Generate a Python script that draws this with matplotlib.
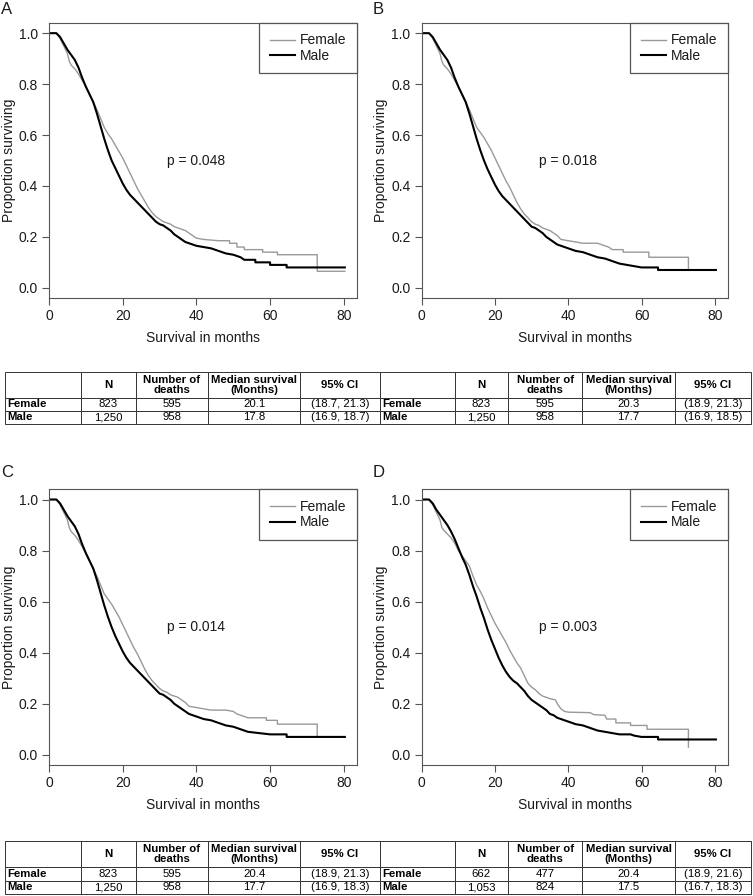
import matplotlib
matplotlib.use("Agg")
import matplotlib.pyplot as plt
import numpy as np

plt.rcParams['font.family'] = ['Liberation Sans', 'DejaVu Sans']

W, H = 753, 896
month_ticks = [0, 20, 40, 60, 80]
prop_ticks = [0.0, 0.2, 0.4, 0.6, 0.8, 1.0]
tick_labels_y = ['0.0', '0.2', '0.4', '0.6', '0.8', '1.0']

# Kaplan-Meier curves: (month, proportion surviving)
a_female = [(0, 1.0), (2, 1.0), (3, 0.98), (4, 0.95), (5, 0.92), (5.5, 0.89), (6, 0.875), (7, 0.86),
            (8, 0.84), (9, 0.815), (10, 0.79), (11, 0.76), (12, 0.73), (13, 0.70), (14, 0.665),
            (15, 0.63), (16, 0.605), (17, 0.585), (18, 0.56), (19, 0.535), (20, 0.51), (21, 0.48),
            (22, 0.45), (23, 0.42), (24, 0.39), (25, 0.365), (26, 0.34), (27, 0.315), (28, 0.295),
            (29, 0.28), (30, 0.27), (31, 0.26), (32, 0.255), (33, 0.25), (34, 0.24), (35, 0.235),
            (36, 0.23), (37, 0.225), (38, 0.215), (39, 0.205), (40, 0.195), (42, 0.19), (46, 0.185),
            (49, 0.185), (49, 0.175), (51, 0.175), (51, 0.16), (53, 0.16), (53, 0.15), (58, 0.15),
            (58, 0.14), (62, 0.14), (62, 0.13), (72.8, 0.13), (72.8, 0.065), (80.3, 0.065)]
a_male = [(0, 1.0), (2, 1.0), (3, 0.985), (4, 0.96), (5, 0.935), (6, 0.915), (7, 0.895), (8, 0.865),
          (9, 0.825), (10, 0.79), (11, 0.76), (12, 0.73), (13, 0.685), (14, 0.635), (15, 0.585),
          (16, 0.54), (17, 0.50), (18, 0.47), (19, 0.44), (20, 0.41), (21, 0.385), (22, 0.365),
          (23, 0.35), (24, 0.335), (25, 0.32), (26, 0.305), (27, 0.29), (28, 0.275), (29, 0.26),
          (30, 0.25), (31, 0.245), (32, 0.235), (33, 0.225), (34, 0.21), (35, 0.20), (36, 0.19),
          (37, 0.18), (38, 0.175), (39, 0.17), (40, 0.165), (42, 0.16), (44, 0.155), (46, 0.145),
          (48, 0.135), (50, 0.13), (52, 0.12), (53, 0.11), (56, 0.11), (56, 0.10), (60, 0.10),
          (60, 0.09), (64.5, 0.09), (64.5, 0.08), (80.3, 0.08)]

b_female = [(0, 1.0), (2, 1.0), (3, 0.98), (4, 0.95), (5, 0.92), (5.5, 0.89), (6, 0.875), (7, 0.86),
            (8, 0.84), (9, 0.815), (10, 0.79), (11, 0.76), (12, 0.73), (13, 0.70), (14, 0.665),
            (15, 0.63), (16, 0.61), (17, 0.59), (18, 0.565), (19, 0.54), (20, 0.51), (21, 0.48),
            (22, 0.45), (23, 0.42), (24, 0.395), (25, 0.365), (26, 0.335), (27, 0.31), (28, 0.29),
            (29, 0.275), (30, 0.26), (31, 0.25), (32, 0.245), (33, 0.235), (34, 0.23), (35, 0.225),
            (36, 0.215), (37, 0.205), (38, 0.19), (40, 0.185), (42, 0.18), (44, 0.175), (48, 0.175),
            (50, 0.165), (51, 0.16), (52, 0.15), (55, 0.15), (55, 0.14), (62, 0.14), (62, 0.12),
            (72.8, 0.12), (72.8, 0.07), (80.3, 0.07)]
b_male = [(0, 1.0), (2, 1.0), (3, 0.985), (4, 0.96), (5, 0.935), (6, 0.915), (7, 0.895), (8, 0.865),
          (9, 0.825), (10, 0.79), (11, 0.76), (12, 0.73), (13, 0.685), (14, 0.635), (15, 0.585),
          (16, 0.54), (17, 0.50), (18, 0.465), (19, 0.435), (20, 0.405), (21, 0.38), (22, 0.36),
          (23, 0.345), (24, 0.33), (25, 0.315), (26, 0.30), (27, 0.285), (28, 0.27), (29, 0.255),
          (30, 0.24), (31, 0.235), (32, 0.225), (33, 0.215), (34, 0.20), (35, 0.19), (36, 0.18),
          (37, 0.17), (38, 0.165), (40, 0.155), (42, 0.145), (44, 0.14), (46, 0.13), (48, 0.12),
          (50, 0.115), (52, 0.105), (54, 0.095), (56, 0.09), (58, 0.085), (60, 0.08), (64.5, 0.08),
          (64.5, 0.07), (80.3, 0.07)]

c_female = [(0, 1.0), (2, 1.0), (3, 0.98), (4, 0.95), (5, 0.92), (5.5, 0.89), (6, 0.875), (7, 0.86),
            (8, 0.84), (9, 0.815), (10, 0.79), (11, 0.76), (12, 0.73), (13, 0.70), (14, 0.665),
            (15, 0.63), (16, 0.61), (17, 0.59), (18, 0.565), (19, 0.54), (20, 0.51), (21, 0.48),
            (22, 0.45), (23, 0.42), (24, 0.395), (25, 0.365), (26, 0.335), (27, 0.31), (28, 0.29),
            (29, 0.275), (30, 0.26), (31, 0.25), (32, 0.245), (33, 0.235), (34, 0.23), (35, 0.225),
            (36, 0.215), (37, 0.205), (38, 0.19), (40, 0.185), (42, 0.18), (44, 0.175), (48, 0.175),
            (50, 0.17), (51, 0.16), (52, 0.155), (54, 0.145), (59, 0.145), (59, 0.135), (62, 0.135),
            (62, 0.12), (72.8, 0.12), (72.8, 0.07), (80.3, 0.07)]
c_male = [(0, 1.0), (2, 1.0), (3, 0.985), (4, 0.96), (5, 0.935), (6, 0.915), (7, 0.895), (8, 0.865),
          (9, 0.825), (10, 0.79), (11, 0.76), (12, 0.73), (13, 0.685), (14, 0.635), (15, 0.585),
          (16, 0.54), (17, 0.50), (18, 0.465), (19, 0.435), (20, 0.405), (21, 0.38), (22, 0.36),
          (23, 0.345), (24, 0.33), (25, 0.315), (26, 0.30), (27, 0.285), (28, 0.27), (29, 0.255),
          (30, 0.24), (31, 0.235), (32, 0.225), (33, 0.215), (34, 0.20), (35, 0.19), (36, 0.18),
          (37, 0.17), (38, 0.16), (40, 0.15), (42, 0.14), (44, 0.135), (46, 0.125), (48, 0.115),
          (50, 0.11), (52, 0.10), (54, 0.09), (57, 0.085), (60, 0.08), (64.5, 0.08), (64.5, 0.07),
          (80.3, 0.07)]

d_female = [(0, 1.0), (2, 1.0), (3, 0.98), (4, 0.95), (5, 0.92), (5.5, 0.89), (6, 0.88), (7, 0.865),
            (8, 0.85), (9, 0.83), (10, 0.80), (11, 0.78), (12, 0.76), (13, 0.74), (14, 0.70),
            (15, 0.665), (16, 0.64), (17, 0.61), (18, 0.575), (19, 0.545), (20, 0.515), (21, 0.49),
            (22, 0.465), (23, 0.44), (24, 0.41), (25, 0.385), (26, 0.36), (27, 0.34), (28, 0.31),
            (29, 0.28), (30, 0.265), (31, 0.255), (32, 0.24), (33, 0.23), (34, 0.225), (35, 0.22),
            (36.5, 0.215), (37, 0.20), (38, 0.18), (39, 0.17), (40, 0.167), (46, 0.165), (47, 0.157),
            (50, 0.155), (50.5, 0.14), (53, 0.14), (53, 0.125), (57, 0.125), (57, 0.115),
            (61.5, 0.115), (61.5, 0.10), (72.8, 0.10), (72.8, 0.03)]
d_male = [(0, 1.0), (2, 1.0), (3, 0.985), (4, 0.96), (5, 0.94), (6, 0.92), (7, 0.90), (8, 0.875),
          (9, 0.845), (10, 0.81), (11, 0.775), (12, 0.745), (13, 0.705), (14, 0.66), (15, 0.62),
          (16, 0.575), (17, 0.535), (18, 0.49), (19, 0.45), (20, 0.415), (21, 0.38), (22, 0.35),
          (23, 0.325), (24, 0.305), (25, 0.29), (26, 0.28), (27, 0.265), (28, 0.25), (29, 0.23),
          (30, 0.215), (31, 0.205), (32, 0.195), (33, 0.185), (34, 0.175), (35, 0.16), (36, 0.155),
          (37, 0.145), (38, 0.14), (40, 0.13), (42, 0.12), (44, 0.115), (46, 0.105), (48, 0.095),
          (50, 0.09), (52, 0.085), (54, 0.08), (57, 0.08), (58, 0.075), (60, 0.07), (64.5, 0.07),
          (64.5, 0.06), (80.3, 0.06)]

p_values = ['p = 0.048', 'p = 0.018', 'p = 0.014', 'p = 0.003']
letters = ['A', 'B', 'C', 'D']

# summary tables
col_header = ['', 'N', 'Number of\ndeaths', 'Median survival\n(Months)', '95% CI']
a_table = [['Female', '823', '595', '20.1', '(18.7, 21.3)'],
           ['Male', '1,250', '958', '17.8', '(16.9, 18.7)']]
b_table = [['Female', '823', '595', '20.3', '(18.9, 21.3)'],
           ['Male', '1,250', '958', '17.7', '(16.9, 18.5)']]
c_table = [['Female', '823', '595', '20.4', '(18.9, 21.3)'],
           ['Male', '1,250', '958', '17.7', '(16.9, 18.3)']]
d_table = [['Female', '662', '477', '20.4', '(18.9, 21.6)'],
           ['Male', '1,053', '824', '17.5', '(16.7, 18.3)']]

frame_col = '#555555'
txt_col = '#1a1a1a'
fs = 10

fig = plt.figure(figsize=(W / 100, H / 100), dpi=100)


def px_box(left, top, right, bottom):
    return [left / W, 1 - bottom / H, (right - left) / W, (bottom - top) / H]


def draw_panel(ax, female, male, ptxt):
    ft, fsv = zip(*female)
    mt, msv = zip(*male)
    ax.plot(ft, fsv, color='#999999', lw=1.0, label='Female')
    ax.plot(mt, msv, color='black', lw=1.5, label='Male')
    ax.set_xlim(0, 83.6)
    ax.set_ylim(-0.04, 1.04)
    ax.set_xticks(month_ticks)
    ax.set_yticks(prop_ticks)
    ax.set_yticklabels(tick_labels_y)
    ax.tick_params(direction='out', length=5, width=0.8, color=frame_col,
                   labelcolor=txt_col, labelsize=fs, pad=3)
    for sp in ax.spines.values():
        sp.set_color(frame_col)
        sp.set_linewidth(0.8)
    ax.set_xlabel('Survival in months', fontsize=fs, color=txt_col, labelpad=6)
    ax.set_ylabel('Proportion surviving', fontsize=fs, color=txt_col, labelpad=2)
    ax.text(32, 0.50, ptxt, fontsize=fs, color=txt_col, va='center')
    leg = ax.legend(loc='upper right', borderaxespad=0, fancybox=False, framealpha=1,
                    edgecolor=frame_col, fontsize=fs, handlelength=1.8, handletextpad=0.4,
                    borderpad=0.75, labelspacing=0.12)
    leg.get_frame().set_linewidth(0.9)
    for t in leg.get_texts():
        t.set_color(txt_col)


def draw_table(ax, left_rows, right_rows):
    cells = [l + r for l, r in zip(left_rows, right_rows)]
    widths = [76, 54, 72, 92, 79, 75, 53, 74, 92, 76]
    tb = ax.table(cellText=cells, colLabels=col_header * 2, colWidths=widths,
                  cellLoc='center', bbox=[0, 0, 1, 1])
    tb.auto_set_font_size(False)
    for (r, c), cell in tb.get_celld().items():
        cell.set_height(26 if r == 0 else 13.5)
        cell.set_edgecolor('#333333')
        cell.set_linewidth(0.7)
        txt = cell.get_text()
        txt.set_fontsize(8.2)
        txt.set_linespacing(0.95)
        txt.set_color('black')
        if r == 0 or c in (0, 5):
            txt.set_fontweight('bold')
        if c in (0, 5) and r > 0:
            txt.set_horizontalalignment('left')
            cell.PAD = 0.03
    ax.axis('off')


panels = [
    (px_box(49, 23, 357, 298), a_female, a_male),
    (px_box(421.7, 23, 728, 298), b_female, b_male),
    (px_box(49, 489.3, 357, 765), c_female, c_male),
    (px_box(421.7, 489.3, 728, 765), d_female, d_male),
]
letter_pos = [(1, 2), (373, 2), (1, 465), (373, 465)]

for (box, fem, mal), ptxt, let, (lx, ly) in zip(panels, p_values, letters, letter_pos):
    ax = fig.add_axes(box)
    draw_panel(ax, fem, mal, ptxt)
    fig.text(lx / W, 1 - ly / H, let, fontsize=12, va='top', ha='left', color=txt_col)

tax1 = fig.add_axes(px_box(5, 372, 751, 424))
draw_table(tax1, a_table, b_table)
tax2 = fig.add_axes(px_box(5, 841, 751, 894))
draw_table(tax2, c_table, d_table)

fig.savefig('out.png', dpi=100)
